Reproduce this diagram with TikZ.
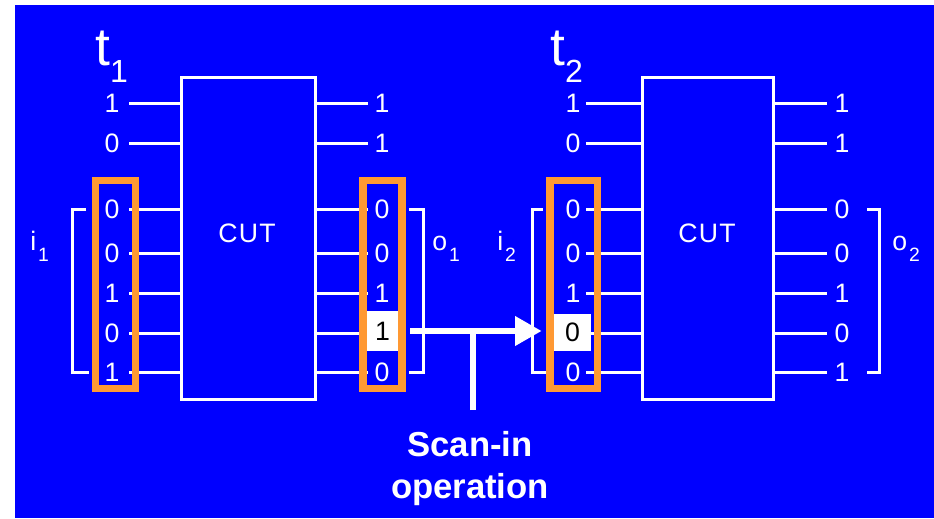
\documentclass[tikz,border=0pt]{standalone}
\usepackage{fontspec}
\setmainfont{Liberation Sans}
\usepackage{tikz}
\usetikzlibrary{arrows.meta}
\definecolor{slide}{RGB}{0, 0, 255}
\definecolor{scanorange}{RGB}{255, 153, 51}

\newcommand{\timelbl}[1]{{\fontsize{40}{40}\selectfont t}\raisebox{-12.75pt}{\fontsize{24}{24}\selectfont #1}}
\newcommand{\portlbl}[2]{#1\kern1.5pt\raisebox{-8.25pt}{\fontsize{14.5}{14.5}\selectfont #2}}

\begin{document}
\begin{tikzpicture}[x=0.75pt, y=-0.75pt,
  wire/.style={white, line width=2.25pt},
  bit/.style={text=white, inner sep=0pt, font=\fontsize{20}{24}\selectfont},
  cut/.style={draw=white, line width=2.25pt, minimum height=241.5pt, inner sep=0pt},
  hilite/.style={fill=white, text=black, inner sep=0pt, font=\fontsize{20}{24}\selectfont},
  scanreg/.style={draw=scanorange, line width=5.5pt},
  bracket/.style={white, line width=2.25pt},
  port/.style={text=white, inner sep=0pt, anchor=base west, font=\fontsize{20}{24}\selectfont},
  shiftarrow/.style={white, line width=5pt, -{Triangle[length=20pt, width=21pt]}},
  stem/.style={white, line width=5pt},
  scantext/.style={text=white, inner sep=0pt, align=center, font=\bfseries\fontsize{26}{31.5}\selectfont}]

  \useasboundingbox (0, 0) rectangle (934, 518);
  \fill[slide] (15, 5) rectangle (934, 518);

  % time frame t1
  \begin{scope}[shift={(0, 0)}]

    \node[cut, minimum width=100.8pt] (cutL) at (248.5, 238) {};
    \node[bit] (cutLtxt) at (247, 233) {C\kern1pt U\kern1pt T};
    \node[port] (t1) at (95, 65) {\timelbl{1}};

    \foreach \y/\a/\b [count=\k] in {103/1/1, 143/0/1, 209/0/0, 253/0/0, 293/1/1, 333/0/1, 372/1/0} {
      \node[bit] (inL\k) at (112, \y) {\a};
      \node[bit] (outL\k) at (382, \y) {\b};
      \draw[wire] ([xshift=7pt]inL\k.east) -- (cutL.west |- inL\k.east);
      \draw[wire] (cutL.east |- outL\k.west) -- ([xshift=-5pt]outL\k.west);
    }

    \node[hilite, minimum width=23.25pt, minimum height=30pt] (hiL) at (382.5, 331) {1};

    \draw[scanreg] (95.5, 180.5) rectangle (135.5, 388.5);
    \draw[scanreg] (363, 180.5) rectangle (402, 388.5);

    \draw[bracket] (86, 209) -- (72, 209) -- (72, 372) -- (89, 372);
    \draw[bracket] (409, 209) -- (423, 209) -- (423, 372) -- (409, 372);
    \node[port] (i1) at (30, 250) {\portlbl{i}{1}};
    \node[port] (o1) at (432, 250) {\portlbl{o}{1}};

  \end{scope}

  % time frame t2
  \begin{scope}[shift={(461, 0)}]

    \node[cut, minimum width=98.25pt] (cutR) at (247.2, 238) {};
    \node[bit] (cutRtxt) at (246, 233) {C\kern1pt U\kern1pt T};
    \node[port] (t2) at (89, 65) {\timelbl{2}};

    \foreach \y/\a/\b [count=\k] in {103/1/1, 143/0/1, 209/0/0, 253/0/0, 293/1/1, 333/0/0, 372/0/1} {
      \node[bit] (inR\k) at (112, \y) {\a};
      \node[bit] (outR\k) at (381, \y) {\b};
      \draw[wire] ([xshift=4pt]inR\k.east) -- (cutR.west |- inR\k.east);
      \draw[wire] (cutR.east |- outR\k.west) -- ([xshift=-5.5pt]outR\k.west);
    }

    \node[hilite, minimum width=27.75pt, minimum height=27.75pt] (hiR) at (111.5, 332.5) {0};

    \draw[scanreg] (89, 180.5) rectangle (136.5, 388.5);

    \draw[bracket] (82, 209) -- (71, 209) -- (71, 372) -- (85, 372);
    \draw[bracket] (406, 209) -- (418, 209) -- (418, 372) -- (406, 372);
    \node[port] (i2) at (36, 250) {\portlbl{i}{2}};
    \node[port] (o2) at (431, 250) {\portlbl{o}{2}};

  \end{scope}

  % scan shift between frames
  \draw[shiftarrow] ([xshift=9pt]hiL.east) -- ([xshift=-9pt]hiR.west |- hiL.east);
  \node[scantext, anchor=north] (scan) at (470, 431) {Scan-in\\operation};
  \draw[stem] ([xshift=2.25pt, yshift=15.75pt]scan.north) -- ([xshift=2.25pt]scan.north |- hiL.east);

\end{tikzpicture}
\end{document}
